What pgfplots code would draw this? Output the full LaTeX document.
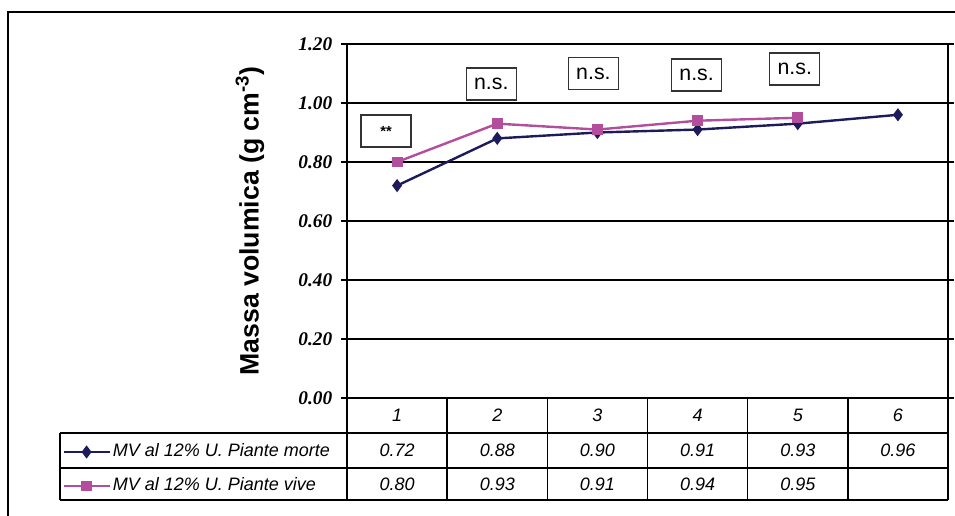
\documentclass[border=0pt]{standalone}
\usepackage{pgfplots}
\usepackage{pgfplotstable}
\pgfplotsset{compat=1.18}
\usepackage{fontspec}
\setmainfont{Liberation Sans}
\newfontface\tickface{Liberation Serif Bold Italic}

\definecolor{morte}{HTML}{1E1B5C}
\definecolor{vive}{HTML}{B24E9C}
\definecolor{boxline}{HTML}{333333}

% Massa volumica, MV al 12% di umidita
\pgfplotstableread{
cat morte
1 0.72
2 0.88
3 0.90
4 0.91
5 0.93
6 0.96
}\tabmorte
\pgfplotstableread{
cat vive
1 0.80
2 0.93
3 0.91
4 0.94
5 0.95
}\tabvive

\begin{document}
\begin{tikzpicture}[
  sigbox/.style={draw=boxline, line width=1.1pt, fill=white, minimum width=37.5pt, minimum height=24pt, inner sep=0pt},
]
\useasboundingbox (0,0) rectangle (716.25pt,386.25pt);
% outer frame
\begin{scope}[x=0.75pt,y=0.75pt]
  \clip (0,0) rectangle (955,515);
  \draw[line width=1.1pt] (8,-5) -- (8,503) -- (960,503);
\end{scope}

\begin{axis}[
  at={(260.25pt,87.75pt)}, anchor=south west,
  scale only axis, width=450.75pt, height=265.5pt,
  xmin=0.5, xmax=6.5, ymin=0, ymax=1.2,
  xtick=\empty,
  ytick={0,0.2,0.4,0.6,0.8,1.0,1.2},
  ymajorgrids, grid style={black,line width=0.8pt},
  axis line style={black,line width=0.9pt},
  tick align=outside, major tick length=4.5pt,
  tick style={black,line width=0.8pt},
  y tick label style={font=\tickface\fontsize{14.5}{16}\selectfont, xshift=-3pt},
  yticklabel style={/pgf/number format/.cd, fixed, fixed zerofill, precision=2, assume math mode=true},
  ylabel={Massa volumica (g cm\textsuperscript{-3})},
  every axis y label/.style={at={(rel axis cs:-0.1614,0.5)},anchor=center,rotate=90,
    font=\bfseries\fontsize{20}{22}\selectfont},
  clip=false,
  legend style={at={(rel axis cs:-0.474,-0.2005)}, anchor=west, draw=none, fill=none,
    inner xsep=0pt, inner ysep=0pt,
    font=\itshape\fontsize{13.5}{15}\selectfont,
    cells={anchor=west},
    nodes={inner sep=0pt, text height=9.5pt, text depth=3pt},
    row sep=13pt, column sep=1.5pt},
  legend image code/.code={\draw[mark repeat=2,mark phase=2,#1] plot coordinates {(0pt,0pt)(17.25pt,0pt)(34.5pt,0pt)};},
]
\addplot[morte, line width=1.8pt, mark=diamond*, mark size=3.5pt, mark options={solid}]
  table[x=cat, y=morte] {\tabmorte};
\addlegendentry{MV al 12\% U. Piante morte}
\addplot[vive, line width=1.8pt, mark=square*, mark size=3.2pt, mark options={solid}]
  table[x=cat, y=vive] {\tabvive};
\addlegendentry{MV al 12\% U. Piante vive}

% significance labels
\node[sigbox, font=\bfseries\fontsize{11}{12}\selectfont] at (axis cs:0.89,0.905) {**};
\node[sigbox, font=\fontsize{16}{18}\selectfont] at (axis cs:1.94,1.064) {n.s.};
\node[sigbox, font=\fontsize{16}{18}\selectfont] at (axis cs:2.96,1.100) {n.s.};
\node[sigbox, font=\fontsize{16}{18}\selectfont] at (axis cs:3.99,1.095) {n.s.};
\node[sigbox, font=\fontsize{16}{18}\selectfont] at (axis cs:4.97,1.115) {n.s.};
\end{axis}

% data table under the plot
\begin{scope}[x=0.75pt,y=0.75pt, every node/.style={font=\itshape\fontsize{13.5}{15}\selectfont}]
  \draw[line width=1.1pt] (60,82) -- (948,82);
  \draw[line width=1.1pt] (60,47) -- (948,47);
  \draw[line width=1.1pt] (60,15) -- (948,15);
  \draw[line width=1.1pt] (60,82) -- (60,15);
  \foreach \cx in {347,447.2,547.3,647.5,747.7,847.8,948}
    \draw[line width=1.1pt] (\cx,117) -- (\cx,15);
  \foreach \k/\cx in {1/397.1,2/497.3,3/597.4,4/697.6,5/797.8,6/897.9}
    \node at (\cx,100) {\k};
  \foreach \v/\cx in {0.72/397.1,0.88/497.3,0.90/597.4,0.91/697.6,0.93/797.8,0.96/897.9}
    \node at (\cx,65) {\v};
  \foreach \v/\cx in {0.80/397.1,0.93/497.3,0.91/597.4,0.94/697.6,0.95/797.8}
    \node at (\cx,31) {\v};
\end{scope}
\end{tikzpicture}
\end{document}
